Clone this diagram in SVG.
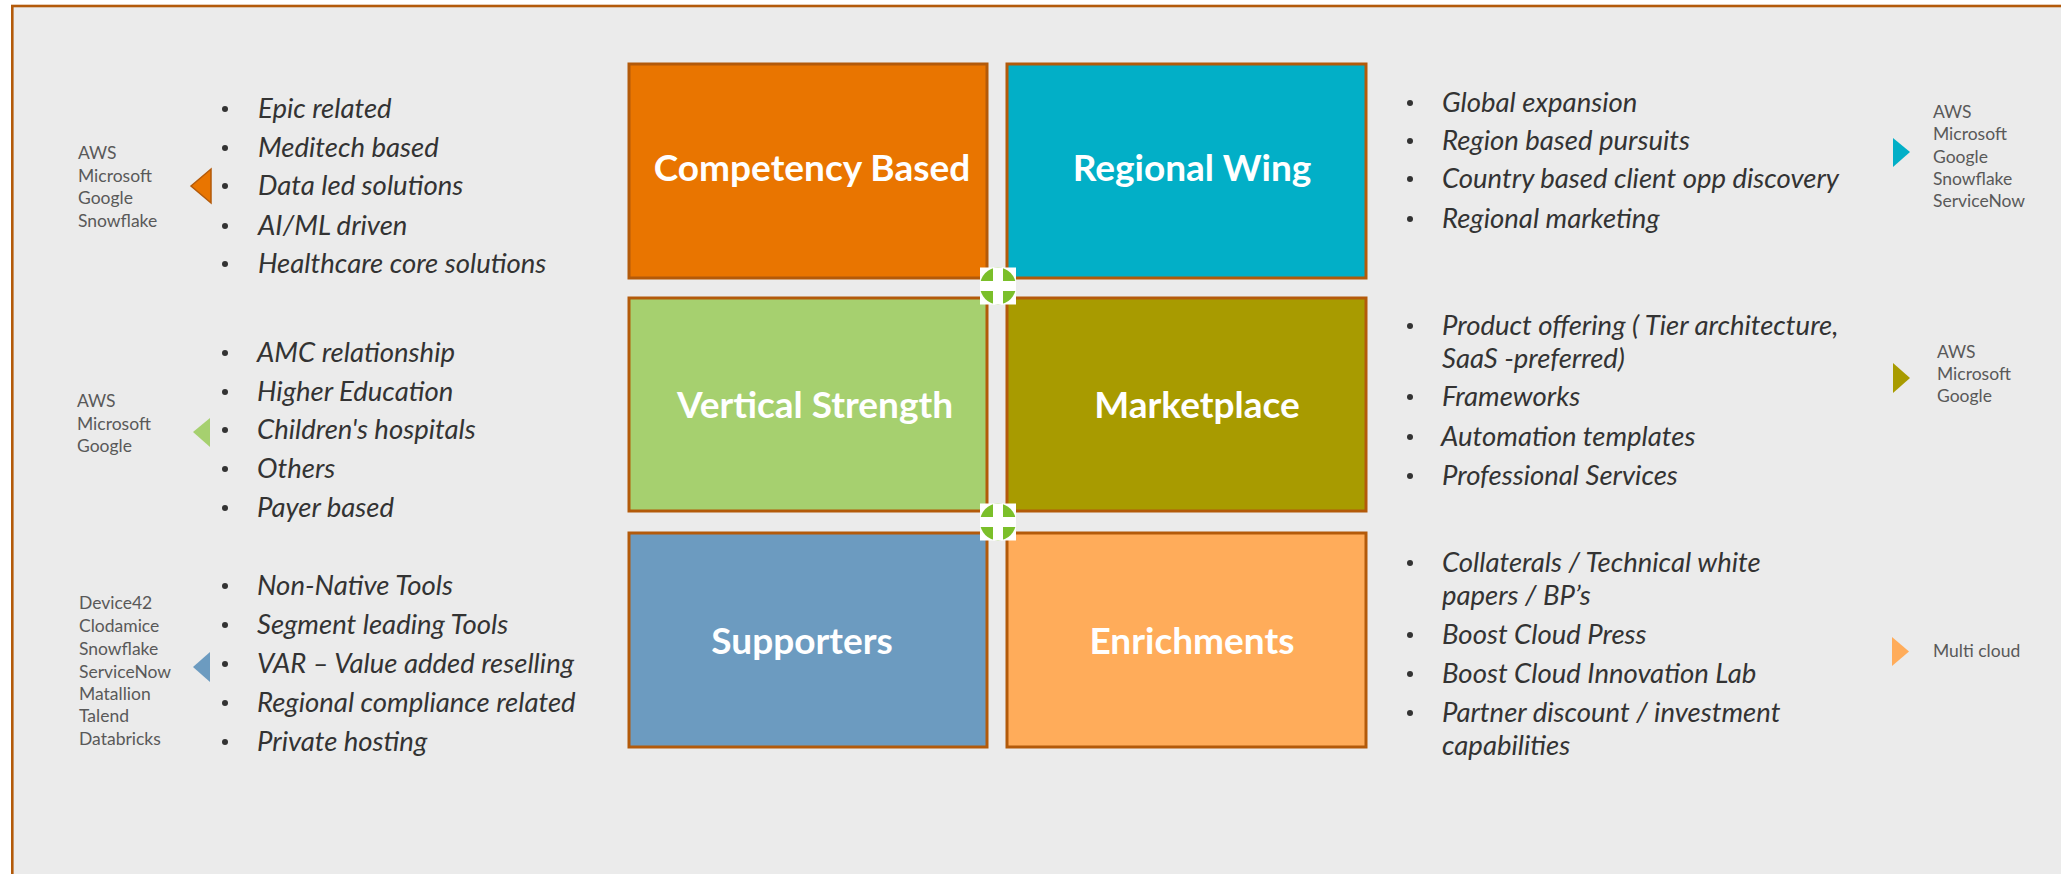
<svg xmlns="http://www.w3.org/2000/svg" width="2061" height="874" viewBox="0 0 2061 874">
<defs>
<style>
.frame{fill:#EBEBEB;stroke:#B35A0A;stroke-width:2.6}
.box{stroke:#B35A0A;stroke-width:3}
.title{font-family:Lato,"Open Sans",sans-serif;font-weight:bold;font-size:37px;fill:#FFFFFF;text-anchor:middle}
.item{font-family:Lato,"Liberation Sans",sans-serif;font-style:italic;font-size:27.5px;fill:#333333}
.dot{fill:#333333}
.prov{font-family:Lato,"Liberation Sans",sans-serif;font-size:17.5px;fill:#595959}
</style>
<g id="plusicon">
<rect x="-18" y="-18.5" width="36" height="37" fill="#FFFFFF"/>
<ellipse cx="0" cy="0" rx="18" ry="18.5" fill="#7BBF2A"/>
<rect x="-5" y="-18.5" width="10" height="37" fill="#FFFFFF"/>
<rect x="-18" y="-5" width="36" height="10" fill="#FFFFFF"/>
</g>
</defs>
<rect x="0" y="0" width="2061" height="874" fill="#FFFFFF"/>
<rect class="frame" x="12.3" y="6" width="2100" height="900"/>

<g id="competency-based">
<rect class="box" x="629" y="64" width="358" height="214" fill="#E97500"/>
<text class="title" x="812" y="181">Competency Based</text>
</g>
<g id="regional-wing">
<rect class="box" x="1007" y="64" width="359" height="214" fill="#02AFC7"/>
<text class="title" x="1192" y="181">Regional Wing</text>
</g>
<g id="vertical-strength">
<rect class="box" x="629" y="298" width="358" height="213" fill="#A6D06F"/>
<text class="title" x="815" y="418">Vertical Strength</text>
</g>
<g id="marketplace">
<rect class="box" x="1007" y="298" width="359" height="213" fill="#A89B00"/>
<text class="title" x="1197" y="418">Marketplace</text>
</g>
<g id="supporters">
<rect class="box" x="629" y="533" width="358" height="214" fill="#6C9BC0"/>
<text class="title" x="802" y="654">Supporters</text>
</g>
<g id="enrichments">
<rect class="box" x="1007" y="533" width="359" height="214" fill="#FFAC5A"/>
<text class="title" x="1192" y="654">Enrichments</text>
</g>

<g id="connectors">
<use href="#plusicon" x="998" y="286"/>
<use href="#plusicon" x="998" y="522"/>
</g>

<g id="competency-list">
<circle class="dot" cx="225" cy="109" r="3"/><text class="item" x="258" y="118">Epic related</text>
<circle class="dot" cx="225" cy="148" r="3"/><text class="item" x="258" y="157">Meditech based</text>
<circle class="dot" cx="225" cy="186" r="3"/><text class="item" x="258" y="195">Data led solutions</text>
<circle class="dot" cx="225" cy="226" r="3"/><text class="item" x="258" y="235">AI/ML driven</text>
<circle class="dot" cx="225" cy="264" r="3"/><text class="item" x="258" y="273">Healthcare core solutions</text>
</g>
<g id="competency-providers">
<polygon points="191,186 211,169 211,203" fill="#E97500" stroke="#B35A0A" stroke-width="1.5"/>
<text class="prov" x="78" y="159">AWS</text>
<text class="prov" x="78" y="182">Microsoft</text>
<text class="prov" x="78" y="204">Google</text>
<text class="prov" x="78" y="227">Snowflake</text>
</g>

<g id="vertical-list">
<circle class="dot" cx="225" cy="353" r="3"/><text class="item" x="257" y="362">AMC relationship</text>
<circle class="dot" cx="225" cy="392" r="3"/><text class="item" x="257" y="401">Higher Education</text>
<circle class="dot" cx="225" cy="430" r="3"/><text class="item" x="257" y="439">Children's hospitals</text>
<circle class="dot" cx="225" cy="469" r="3"/><text class="item" x="257" y="478">Others</text>
<circle class="dot" cx="225" cy="508" r="3"/><text class="item" x="257" y="517">Payer based</text>
</g>
<g id="vertical-providers">
<polygon points="193,432 210,418 210,447" fill="#A6D06F"/>
<text class="prov" x="77" y="407">AWS</text>
<text class="prov" x="77" y="430">Microsoft</text>
<text class="prov" x="77" y="452">Google</text>
</g>

<g id="supporters-list">
<circle class="dot" cx="225" cy="586" r="3"/><text class="item" x="257" y="595">Non-Native Tools</text>
<circle class="dot" cx="225" cy="625" r="3"/><text class="item" x="257" y="634">Segment leading Tools</text>
<circle class="dot" cx="225" cy="664" r="3"/><text class="item" x="257" y="673">VAR – Value added reselling</text>
<circle class="dot" cx="225" cy="703" r="3"/><text class="item" x="257" y="712">Regional compliance related</text>
<circle class="dot" cx="225" cy="742" r="3"/><text class="item" x="257" y="751">Private hosting</text>
</g>
<g id="supporters-providers">
<polygon points="193,667 210,652 210,682" fill="#6C9BC0"/>
<text class="prov" x="79" y="609">Device42</text>
<text class="prov" x="79" y="632">Clodamice</text>
<text class="prov" x="79" y="655">Snowflake</text>
<text class="prov" x="79" y="678">ServiceNow</text>
<text class="prov" x="79" y="700">Matallion</text>
<text class="prov" x="79" y="722">Talend</text>
<text class="prov" x="79" y="745">Databricks</text>
</g>

<g id="regional-list">
<circle class="dot" cx="1410" cy="103" r="3"/><text class="item" x="1442" y="112">Global expansion</text>
<circle class="dot" cx="1410" cy="141" r="3"/><text class="item" x="1442" y="150">Region based pursuits</text>
<circle class="dot" cx="1410" cy="179" r="3"/><text class="item" x="1442" y="188">Country based client opp discovery</text>
<circle class="dot" cx="1410" cy="219" r="3"/><text class="item" x="1442" y="228">Regional marketing</text>
</g>
<g id="regional-providers">
<polygon points="1893,138 1910,152 1893,167" fill="#02AFC7"/>
<text class="prov" x="1933" y="118">AWS</text>
<text class="prov" x="1933" y="140">Microsoft</text>
<text class="prov" x="1933" y="163">Google</text>
<text class="prov" x="1933" y="185">Snowflake</text>
<text class="prov" x="1933" y="207">ServiceNow</text>
</g>

<g id="marketplace-list">
<circle class="dot" cx="1410" cy="326" r="3"/><text class="item" x="1442" y="335">Product offering ( Tier architecture,</text>
<text class="item" x="1442" y="368">SaaS -preferred)</text>
<circle class="dot" cx="1410" cy="397" r="3"/><text class="item" x="1442" y="406">Frameworks</text>
<circle class="dot" cx="1410" cy="437" r="3"/><text class="item" x="1441" y="446">Automation templates</text>
<circle class="dot" cx="1410" cy="476" r="3"/><text class="item" x="1442" y="485">Professional Services</text>
</g>
<g id="marketplace-providers">
<polygon points="1893,363 1910,378 1893,393" fill="#A89B00"/>
<text class="prov" x="1937" y="358">AWS</text>
<text class="prov" x="1937" y="380">Microsoft</text>
<text class="prov" x="1937" y="402">Google</text>
</g>

<g id="enrichments-list">
<circle class="dot" cx="1410" cy="563" r="3"/><text class="item" x="1442" y="572">Collaterals / Technical white</text>
<text class="item" x="1442" y="605">papers / BP’s</text>
<circle class="dot" cx="1410" cy="635" r="3"/><text class="item" x="1442" y="644">Boost Cloud Press</text>
<circle class="dot" cx="1410" cy="674" r="3"/><text class="item" x="1442" y="683">Boost Cloud Innovation Lab</text>
<circle class="dot" cx="1410" cy="713" r="3"/><text class="item" x="1442" y="722">Partner discount / investment</text>
<text class="item" x="1442" y="755">capabilities</text>
</g>
<g id="enrichments-providers">
<polygon points="1892,637 1909,651.5 1892,666" fill="#FFAC5A"/>
<text class="prov" x="1933" y="657">Multi cloud</text>
</g>
</svg>
